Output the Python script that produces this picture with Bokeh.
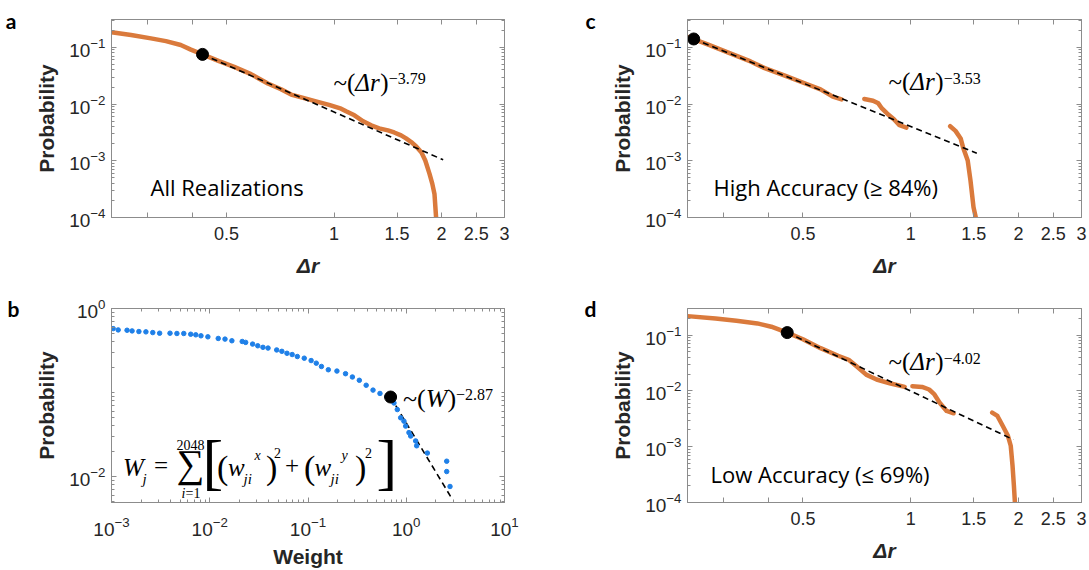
import math
from bokeh.plotting import figure
from bokeh.layouts import gridplot
from bokeh.models import FixedTicker, Label, LogAxis, CustomJSTickFormatter
from bokeh.embed import file_html
from bokeh.resources import INLINE

# ---------------- data ----------------
# (a) all realizations
a_dr = [0.238, 0.27, 0.307, 0.338, 0.372, 0.397, 0.428, 0.476, 0.525, 0.585,
        0.652, 0.71, 0.758, 0.824, 0.90, 0.968, 1.046, 1.08, 1.14, 1.206,
        1.27, 1.337, 1.415, 1.473, 1.54, 1.59, 1.644, 1.698, 1.754, 1.8,
        1.85, 1.883, 1.91, 1.93]
a_prob = [0.184, 0.165, 0.144, 0.129, 0.110, 0.0914, 0.0752, 0.0573, 0.0454,
          0.0337, 0.0231, 0.0183, 0.0147, 0.0127, 0.0109, 0.0097, 0.0083,
          0.00746, 0.00634, 0.00497, 0.00422, 0.00373, 0.00344, 0.00316,
          0.0028, 0.00248, 0.00214, 0.00179, 0.00142, 0.00101, 0.000589,
          0.000396, 0.00026, 0.0001]
a_dot = ([0.428], [0.0752])
a_fit_dr = [0.428, 2.02]
a_fit_prob = [0.0752, 0.00104]
a_exponent = "\u22123.79"

# (b) weight distribution
b_weight = [0.00104, 0.00117, 0.00144, 0.00162, 0.0019, 0.00224, 0.00263,
            0.00309, 0.00394, 0.00463, 0.00544, 0.0064, 0.00721, 0.00814,
            0.00957, 0.0122, 0.0143, 0.0168, 0.0214, 0.0232, 0.0273, 0.0308,
            0.0348, 0.0392, 0.048, 0.0542, 0.0611, 0.069, 0.0779, 0.0916,
            0.1076, 0.1214, 0.137, 0.161, 0.197, 0.241, 0.283, 0.333, 0.391,
            0.459, 0.540, 0.634, 0.750, 0.811, 0.877, 0.947, 0.986, 1.065,
            1.109, 1.246, 1.276, 1.64, 2.58, 2.58, 2.79]
b_prob = [0.576, 0.556, 0.551, 0.541, 0.532, 0.527, 0.517, 0.508, 0.508,
          0.504, 0.504, 0.494, 0.486, 0.473, 0.460, 0.440, 0.432, 0.413,
          0.405, 0.395, 0.377, 0.360, 0.345, 0.338, 0.321, 0.309, 0.293,
          0.283, 0.268, 0.256, 0.240, 0.2234, 0.204, 0.1866, 0.180, 0.1674,
          0.153, 0.1397, 0.122, 0.1067, 0.0974, 0.089, 0.075, 0.0626, 0.050,
          0.0456, 0.0398, 0.0333, 0.0303, 0.0265, 0.0232, 0.019, 0.0152,
          0.01145, 0.0076]
b_dot = ([0.693], [0.0883])
b_fit_w = [0.693, 2.94]
b_fit_prob = [0.0883, 0.00536]
b_exponent = "\u22122.87"

# (c) high accuracy
c_segments = [
    ([0.238, 0.272, 0.312, 0.357, 0.391, 0.447, 0.512, 0.56, 0.606, 0.641],
     [0.153, 0.1117, 0.0794, 0.0565, 0.043, 0.0314, 0.0226, 0.0182, 0.0135, 0.0121]),
    ([0.742, 0.785, 0.812, 0.831, 0.859, 0.899, 0.93, 0.973],
     [0.01227, 0.01146, 0.0103, 0.00838, 0.00683, 0.00534, 0.00424, 0.00385]),
    ([1.289, 1.334, 1.379, 1.40, 1.443, 1.469, 1.498, 1.52],
     [0.00407, 0.00337, 0.00248, 0.00174, 0.00101, 0.000448, 0.000151, 0.0001]),
]
c_dot = ([0.2477], [0.1406])
c_fit_dr = [0.2477, 1.53]
c_fit_prob = [0.1406, 0.00136]
c_exponent = "\u22123.53"

# (d) low accuracy
d_segments = [
    ([0.238, 0.285, 0.326, 0.373, 0.408, 0.452, 0.500, 0.56, 0.627, 0.671,
      0.71, 0.751, 0.803, 0.879, 0.962],
     [0.219, 0.199, 0.181, 0.162, 0.1416, 0.111, 0.0844, 0.0584, 0.0427,
      0.0362, 0.0268, 0.0196, 0.016, 0.01355, 0.01183]),
    ([1.011, 1.076, 1.126, 1.165, 1.205, 1.26, 1.318],
     [0.01215, 0.0118, 0.0106, 0.00865, 0.00615, 0.00437, 0.00397]),
    ([1.689, 1.747, 1.807, 1.869, 1.903, 1.925, 1.942, 1.955],
     [0.00408, 0.00356, 0.00237, 0.00157, 0.00104, 0.00046, 0.000203, 0.0001]),
]
d_dot = ([0.452], [0.111])
d_fit_dr = [0.452, 1.934]
d_fit_prob = [0.111, 0.00134]
d_exponent = "\u22124.02"

# tick values
dr_ticks = [0.5, 1, 1.5, 2, 2.5, 3]
dr_minor = [0.3, 0.4]
prob_ticks = [1e-4, 1e-3, 1e-2, 1e-1]
weight_ticks = [1e-3, 1e-2, 1e-1, 1e0, 1e1]
weight_prob_ticks = [1e-2, 1e0]

ORANGE = "#DA7A3C"
BLUE = "#1F80E8"
AXIS_GRAY = "#8C8C8C"
TEXT = "#262626"
SERIF = "Liberation Serif"
SANS = "Liberation Sans"


def log_minors(lo_exp, hi_exp, lo, hi):
    out = []
    for e in range(lo_exp, hi_exp + 1):
        for k in range(2, 10):
            v = k * 10.0 ** e
            if lo < v < hi:
                out.append(v)
    return out


class Panel:
    def __init__(self, left, top, w, h, xr, yr, fig_w, fig_h):
        self.left, self.top, self.w, self.h = left, top, w, h
        self.xr, self.yr = xr, yr
        self.p = figure(
            width=fig_w, height=fig_h, x_axis_type="log", y_axis_type="log",
            x_range=xr, y_range=yr, output_backend="svg",
            toolbar_location=None,
        )

    def at(self, px, py):
        lx0, lx1 = math.log10(self.xr[0]), math.log10(self.xr[1])
        ly0, ly1 = math.log10(self.yr[0]), math.log10(self.yr[1])
        fx = (px - self.left) / self.w
        fy = (py - self.top) / self.h
        return 10 ** (lx0 + fx * (lx1 - lx0)), 10 ** (ly1 - fy * (ly1 - ly0))

    def text(self, s, px, py, size, style="normal", font=SERIF, align="left",
             color="black"):
        # py is the vertical middle of the text line
        x, y = self.at(px, py)
        self.p.add_layout(Label(x=x, y=y, text=s, text_font=font,
                                text_font_size=f"{size}px", text_font_style=style,
                                text_align=align, text_baseline="middle",
                                text_color=color))

    def letter(self, s, py, standoff):
        # panel letter, drawn as the single label of an extra left axis
        _, y = self.at(self.left, py)
        ax = LogAxis(ticker=FixedTicker(ticks=[y], minor_ticks=[]),
                     formatter=CustomJSTickFormatter(code=f"return '{s}';"))
        ax.axis_line_color = None
        ax.major_tick_line_color = None
        ax.minor_tick_line_color = None
        ax.major_tick_in = 0
        ax.major_tick_out = 0
        ax.major_label_standoff = standoff
        ax.major_label_text_font = "Lato"
        ax.major_label_text_font_style = "bold"
        ax.major_label_text_font_size = "21px"
        ax.major_label_text_color = "black"
        self.p.add_layout(ax, "left")


def make_panel(col, row, xr, yr):
    # page geometry of each plotting frame
    col_x0 = 0 if col == 0 else 576
    fig_w = 576 if col == 0 else 513
    row_y0 = 0 if row == 0 else 288
    fig_h = 288 if row == 0 else 282
    fl = 111
    fw = 393 if col == 0 else 394
    ft = 19 if (row == 0 or col == 1) else 20
    fh = 198 if row == 0 else 196
    pan = Panel(col_x0 + fl, row_y0 + ft, fw, fh, xr, yr, fig_w, fig_h)
    p = pan.p
    p.min_border_left = fl
    p.min_border_right = fig_w - fl - fw
    p.min_border_top = ft
    p.min_border_bottom = fig_h - ft - fh
    p.xgrid.visible = False
    p.ygrid.visible = False
    p.outline_line_color = AXIS_GRAY
    p.background_fill_color = "white"
    p.border_fill_color = "white"
    return pan


blank_fmt = CustomJSTickFormatter(code="return '';")


def style_axis(ax, size, show_labels=True):
    ax.axis_line_color = AXIS_GRAY
    ax.major_tick_line_color = AXIS_GRAY
    ax.minor_tick_line_color = AXIS_GRAY
    ax.major_tick_in = 5
    ax.major_tick_out = 0
    ax.minor_tick_in = 3
    ax.minor_tick_out = 0
    ax.major_label_text_font = SANS
    ax.major_label_text_font_size = f"{size}px" if show_labels else "2px"
    ax.major_label_text_color = TEXT
    ax.axis_label_text_font = SANS
    ax.axis_label_text_font_style = "bold"
    ax.axis_label_text_font_size = "21px"
    ax.axis_label_text_color = TEXT
    if not show_labels:
        ax.formatter = blank_fmt
        ax.major_label_standoff = 0


def decorate(pan, xticker_args, yticker_args, xformatter, xsize, ysize, xlabel,
             xlabel_style, x_standoff=9, xlabel_standoff=11):
    p = pan.p
    p.xaxis.ticker = FixedTicker(**xticker_args)
    p.yaxis.ticker = FixedTicker(**yticker_args)
    if xformatter is not None:
        p.xaxis.formatter = xformatter
    for ax in p.xaxis:
        style_axis(ax, xsize)
    for ax in p.yaxis:
        style_axis(ax, ysize)
    p.xaxis.major_label_standoff = x_standoff
    p.xaxis.axis_label_standoff = xlabel_standoff
    p.yaxis.major_label_standoff = 6
    p.yaxis.axis_label_standoff = 8
    p.xaxis.axis_label = xlabel
    p.xaxis.axis_label_text_font_style = xlabel_style
    p.yaxis.axis_label = "Probability"
    top = LogAxis(ticker=FixedTicker(**xticker_args))
    right = LogAxis(ticker=FixedTicker(**yticker_args))
    for ax in (top, right):
        style_axis(ax, xsize, show_labels=False)
    p.add_layout(top, "above")
    p.add_layout(right, "right")


dr_fmt = CustomJSTickFormatter(code="return (tick < 0.45) ? '' : tick.toString();")

# ---------------- panel a ----------------
A = make_panel(0, 0, (0.238, 3), (1e-4, 0.31))
decorate(A, dict(ticks=dr_minor + dr_ticks, minor_ticks=[]),
         dict(ticks=prob_ticks, minor_ticks=log_minors(-4, -1, 1e-4, 0.31)),
         dr_fmt, 18, 19, "\u0394r", "bold italic")
A.p.line(a_dr, a_prob, line_color=ORANGE, line_width=4.5, line_join="round", line_cap="round")
A.p.line(a_fit_dr, a_fit_prob, line_color="black", line_width=1.6, line_dash="6 4")
A.p.scatter(a_dot[0], a_dot[1], size=12, color="black")

# ---------------- panel c ----------------
C = make_panel(1, 0, (0.238, 3), (1e-4, 0.31))
decorate(C, dict(ticks=dr_minor + dr_ticks, minor_ticks=[]),
         dict(ticks=prob_ticks, minor_ticks=log_minors(-4, -1, 1e-4, 0.31)),
         dr_fmt, 18, 19, "\u0394r", "bold italic")
for xs, ys in c_segments:
    C.p.line(xs, ys, line_color=ORANGE, line_width=4.5, line_join="round", line_cap="round")
C.p.line(c_fit_dr, c_fit_prob, line_color="black", line_width=1.6, line_dash="6 4")
C.p.scatter(c_dot[0], c_dot[1], size=12, color="black")

# ---------------- panel b ----------------
B = make_panel(0, 1, (1e-3, 10), (0.0049, 1))
decorate(B, dict(ticks=weight_ticks, minor_ticks=log_minors(-3, 0, 1e-3, 10)),
         dict(ticks=weight_prob_ticks, minor_ticks=[0.1] + log_minors(-3, -1, 0.0049, 1)),
         None, 19, 19, "Weight", "bold", x_standoff=14, xlabel_standoff=6)
B.p.line(b_fit_w, b_fit_prob, line_color="black", line_width=1.6, line_dash="6 4")
B.p.scatter(b_weight, b_prob, size=4.5, color=BLUE)
B.p.scatter(b_dot[0], b_dot[1], size=12, color="black")

# ---------------- panel d ----------------
D = make_panel(1, 1, (0.238, 3), (1e-4, 0.3))
decorate(D, dict(ticks=dr_minor + dr_ticks, minor_ticks=[]),
         dict(ticks=prob_ticks, minor_ticks=log_minors(-4, -1, 1e-4, 0.3)),
         dr_fmt, 18, 19, "\u0394r", "bold italic")
for xs, ys in d_segments:
    D.p.line(xs, ys, line_color=ORANGE, line_width=4.5, line_join="round", line_cap="round")
D.p.line(d_fit_dr, d_fit_prob, line_color="black", line_width=1.6, line_dash="6 4")
D.p.scatter(d_dot[0], d_dot[1], size=12, color="black")


# ---------------- annotations ----------------
def power_law(pan, x0, sup_text, main_mid, sup_mid, var_italic, fs=25):
    # "~(" + italic variable + ")" followed by the exponent as superscript
    w1 = (0.541 + 0.333) * fs
    pan.text("~(", x0, main_mid, fs)
    pan.text(var_italic, x0 + w1, main_mid, fs, style="italic")
    wv = sum({"\u0394": 0.611, "r": 0.389, "W": 0.833}[ch] for ch in var_italic) * fs
    pan.text(")", x0 + w1 + wv, main_mid, fs)
    pan.text(sup_text, x0 + w1 + wv + 0.333 * fs, sup_mid, 16)


power_law(A, 333, a_exponent, 82, 78, "\u0394r")
power_law(C, 888, c_exponent, 81, 78, "\u0394r")
power_law(D, 888, d_exponent, 361, 358, "\u0394r")
power_law(B, 402.5, b_exponent, 398.5, 395, "W", fs=26)

A.text("All Realizations", 150, 186, 22, font="Open Sans")
C.text("High Accuracy (\u2265 84%)", 713, 186, 22, font="Open Sans")
D.text("Low Accuracy (\u2264 69%)", 710, 474, 22, font="Open Sans")

A.letter("a", 20, 16)
C.letter("c", 20, 13)
B.letter("b", 308.3, 13)
D.letter("d", 307.3, 12)

# weight definition
B.text("W", 122.5, 468.5, 25, style="italic")
B.text("j", 142, 480, 15, style="italic")
B.text("=", 153.5, 467, 25)
B.text("\u2211", 176, 464.5, 39)
B.text("2048", 190, 445.5, 14, align="center")
B.text("i", 181, 495, 14, style="italic")
B.text("=1", 185, 495, 14)
B.text("[", 202, 463, 62)
B.text("(", 216.5, 469, 34)
B.text("w", 227.5, 468.5, 25, style="italic")
B.text("ji", 243, 480, 15, style="italic")
B.text("x", 254, 457, 14, style="italic")
B.text(")", 265.5, 469, 34)
B.text("2", 273.5, 454, 14)
B.text("+", 284.5, 467, 25)
B.text("(", 303.5, 469, 34)
B.text("w", 314, 468.5, 25, style="italic")
B.text("ji", 330, 480, 15, style="italic")
B.text("y", 341, 457, 14, style="italic")
B.text(")", 354.5, 469, 34)
B.text("2", 364.5, 454, 14)
B.text("]", 376, 463, 62)

grid = gridplot([[A.p, C.p], [B.p, D.p]], toolbar_location=None)
open("out.html", "w").write(file_html(grid, INLINE))
